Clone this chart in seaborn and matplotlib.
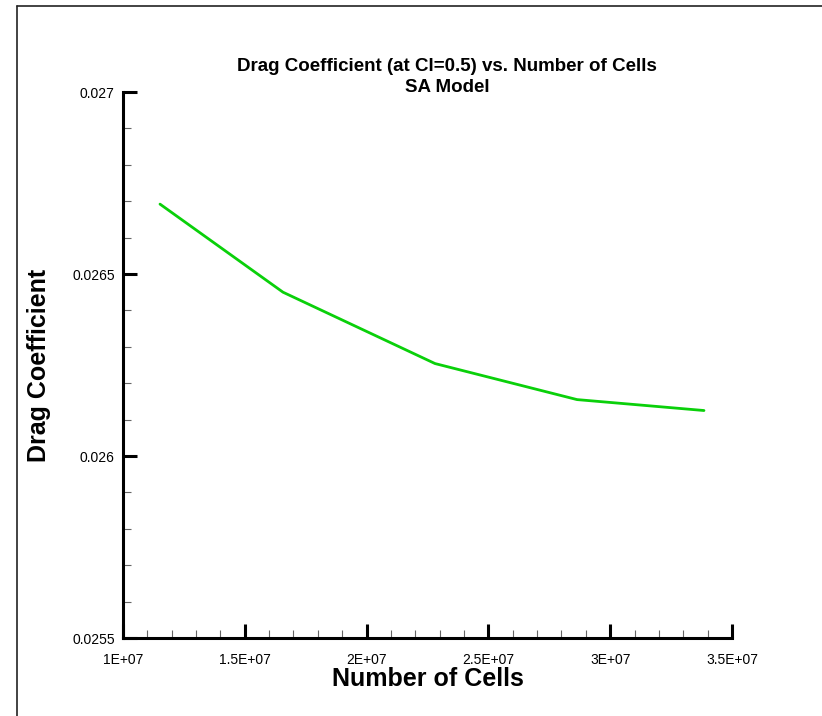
import matplotlib
matplotlib.use("Agg")
import matplotlib.pyplot as plt
from matplotlib.lines import Line2D
from matplotlib.ticker import FixedLocator, MultipleLocator, FuncFormatter, FixedFormatter
import seaborn as sns
import pandas as pd

# Grid-convergence study: drag coefficient at CL = 0.5 (SA turbulence model)
cells = [1.152e7, 1.657e7, 2.281e7, 2.864e7, 3.385e7]
drag_coefficient = [0.026692, 0.02645, 0.026254, 0.026155, 0.026125]

x_ticks = [1e7, 1.5e7, 2e7, 2.5e7, 3e7, 3.5e7]
y_ticks = [0.0255, 0.026, 0.0265, 0.027]
y_tick_labels = ["0.0255", "0.026", "0.0265", "0.027"]

title = "Drag Coefficient (at Cl=0.5) vs. Number of Cells\nSA Model"
x_label = "Number of Cells"
y_label = "Drag Coefficient"

sns.set_style("ticks")
plt.rcParams["font.family"] = ["Liberation Sans", "DejaVu Sans"]
plt.rcParams["text.color"] = "black"
plt.rcParams["axes.labelcolor"] = "black"
plt.rcParams["xtick.color"] = "black"
plt.rcParams["ytick.color"] = "black"

df = pd.DataFrame({"cells": cells, "cd": drag_coefficient})

fig = plt.figure(figsize=(8.22, 7.16), dpi=100)
ax = fig.add_axes([0.1496, 0.1089, 0.7409, 0.7626])

sns.lineplot(data=df, x="cells", y="cd", ax=ax, color="#0ad00a", linewidth=2.0)

ax.set_xlim(x_ticks[0], x_ticks[-1])
ax.set_ylim(y_ticks[0], y_ticks[-1])

ax.xaxis.set_major_locator(FixedLocator(x_ticks))
ax.xaxis.set_minor_locator(MultipleLocator(1e6))
ax.yaxis.set_major_locator(FixedLocator(y_ticks))
ax.yaxis.set_minor_locator(MultipleLocator(0.0001))


def sci_label(v, pos):
    mant = v / 1e7
    s = ("%g" % mant)
    return f"{s}E+07"


ax.xaxis.set_major_formatter(FuncFormatter(sci_label))
ax.yaxis.set_major_formatter(FixedFormatter(y_tick_labels))

for side in ("top", "right"):
    ax.spines[side].set_visible(False)
for side in ("left", "bottom"):
    ax.spines[side].set_linewidth(2.2)
    ax.spines[side].set_color("black")

ax.tick_params(axis="both", which="major", direction="in", length=10,
               width=2.2, color="black", labelsize=10, labelcolor="black")
ax.tick_params(axis="x", which="major", pad=11)
ax.tick_params(axis="y", which="major", pad=6)
ax.tick_params(axis="both", which="minor", direction="in", length=6,
               width=0.8, color="#666666")

ax.set_xlabel(x_label, fontsize=18, fontweight="bold", labelpad=0, color="black")
ax.set_ylabel(y_label, fontsize=18, fontweight="bold", labelpad=15, color="black")

fig.text(447 / 822, 1 - 77 / 716, title, ha="center", va="center",
         fontsize=13.5, fontweight="bold", linespacing=1.35, color="black")

# Frame lines along the left and top edges of the canvas
fig.add_artist(Line2D([17 / 822, 17 / 822], [0, 1 - 6 / 716], transform=fig.transFigure,
                      color="#222222", linewidth=1.2))
fig.add_artist(Line2D([17 / 822, 1], [1 - 6 / 716, 1 - 6 / 716], transform=fig.transFigure,
                      color="#222222", linewidth=1.2))

fig.savefig("out.png", dpi=100, facecolor="white")
